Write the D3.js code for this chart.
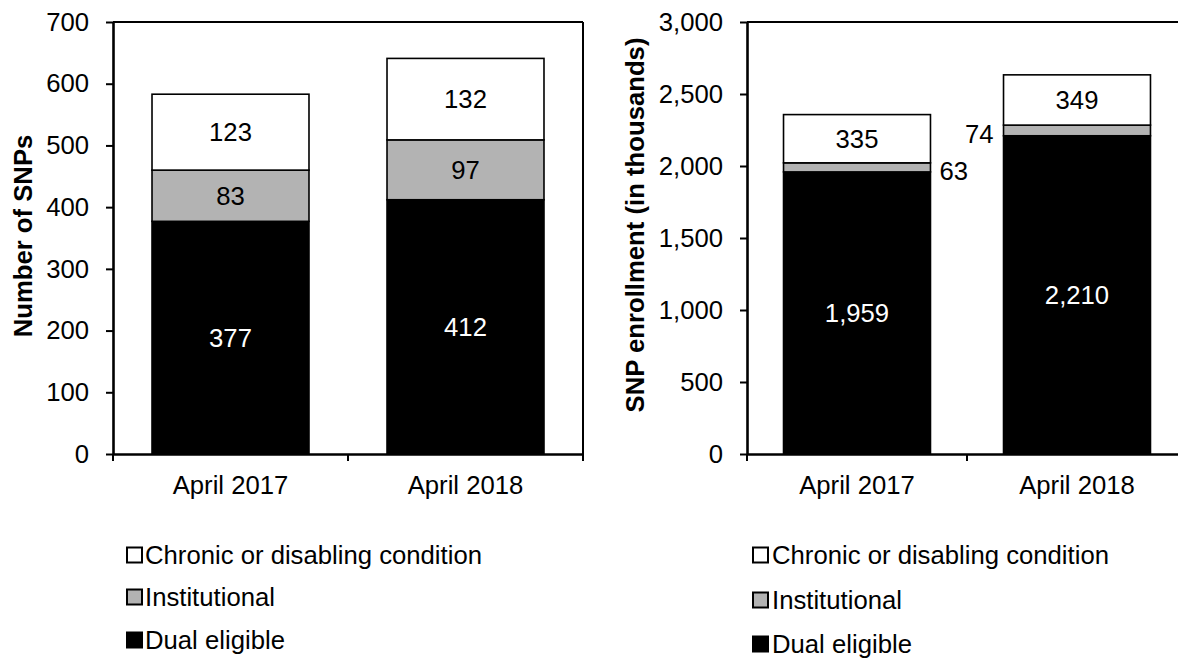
<!DOCTYPE html>
<html>
<head>
<meta charset="utf-8">
<script src="https://cdn.jsdelivr.net/npm/d3@7/dist/d3.min.js"></script>
<style>
  html, body { margin: 0; padding: 0; background: #fff; }
  svg { display: block; font-family: "Liberation Sans", Arial, sans-serif; }
  text { fill: #000; }
</style>
</head>
<body>
<svg id="chart" width="1178" height="658"></svg>
<script>
// Periods on the x axis
const periods = ["April 2017", "April 2018"];

// Segment keys, bottom to top
const segmentKeys = ["dual", "institutional", "chronic"];
const segmentNames = ["Dual eligible", "Institutional", "Chronic or disabling condition"];
const segmentColors = ["#000000", "#b3b3b3", "#ffffff"];

// Number of special needs plans
const dualPlans = [377, 412];
const institutionalPlans = [83, 97];
const chronicPlans = [123, 132];

// SNP enrollment, in thousands
const dualEnrollment = [1959, 2210];
const institutionalEnrollment = [63, 74];
const chronicEnrollment = [335, 349];

// Tick values
const planTicks = [0, 100, 200, 300, 400, 500, 600, 700];
const enrollmentTicks = [0, 500, 1000, 1500, 2000, 2500, 3000];

const svg = d3.select("#chart");
const FONT = 25.7;

function buildRows(dual, inst, chronic) {
  return periods.map((p, i) => ({
    period: p, dual: dual[i], institutional: inst[i], chronic: chronic[i]
  }));
}

function drawPanel(opts) {
  const { rows, ticks, yMax, left, right, top, bottom, title, titleX, titleY,
          fmt, smallOutside, legendX, legendTextX, legendY } = opts;

  const x = d3.scaleBand().domain(periods).range([left, right])
    .paddingInner(0.332).paddingOuter(0.166);
  const y = d3.scaleLinear().domain([0, yMax]).range([bottom, top]);
  const stack = d3.stack().keys(segmentKeys);
  const series = stack(rows);

  const g = svg.append("g");

  // stacked bars
  series.forEach((s, k) => {
    g.append("g").selectAll("rect").data(s).join("rect")
      .attr("x", d => x(d.data.period))
      .attr("width", x.bandwidth())
      .attr("y", d => y(d[1]))
      .attr("height", d => y(d[0]) - y(d[1]))
      .attr("fill", segmentColors[k])
      .attr("stroke", "#000")
      .attr("stroke-width", 1.6);
  });

  // value labels
  series.forEach((s, k) => {
    s.forEach((d, i) => {
      const v = d[1] - d[0];
      const h = y(d[0]) - y(d[1]);
      const cy = (y(d[0]) + y(d[1])) / 2;
      const label = g.append("text")
        .attr("font-size", FONT)
        .text(fmt(v));
      if (h >= FONT * 0.9 || !smallOutside) {
        label.attr("x", x(d.data.period) + x.bandwidth() / 2)
          .attr("y", cy).attr("dy", "0.35em")
          .attr("text-anchor", "middle")
          .style("fill", k === 0 ? "#fff" : "#000");
      } else {
        const onRight = i === 0;
        label.attr("x", onRight ? x(d.data.period) + x.bandwidth() + 9
                                : x(d.data.period) - 10)
          .attr("y", cy + 3.5).attr("dy", "0.35em")
          .attr("text-anchor", onRight ? "start" : "end");
      }
    });
  });

  // plot frame: top and right edges
  g.append("line").attr("x1", left).attr("x2", right).attr("y1", top).attr("y2", top)
    .attr("stroke", "#000").attr("stroke-width", 2);
  g.append("line").attr("x1", right).attr("x2", right).attr("y1", top).attr("y2", bottom)
    .attr("stroke", "#000").attr("stroke-width", 2);

  // y axis
  const yAxis = g.append("g")
    .attr("transform", `translate(${left},0)`)
    .call(d3.axisLeft(y).tickValues(ticks).tickFormat(fmt)
      .tickSize(7).tickSizeOuter(0).tickPadding(17));
  yAxis.select(".domain").attr("stroke-width", 2.6);
  yAxis.selectAll(".tick line").attr("stroke-width", 2);
  yAxis.selectAll("text").attr("font-size", FONT).attr("font-family", null).style("fill", "#000");

  // x axis: labels under each band, tick marks at band boundaries
  const xAxis = g.append("g")
    .attr("transform", `translate(0,${bottom})`)
    .call(d3.axisBottom(x).tickSize(0).tickPadding(22));
  xAxis.select(".domain").attr("stroke-width", 2.6);
  xAxis.selectAll("text").attr("font-size", FONT).attr("font-family", null).style("fill", "#000");
  const bounds = [left].concat(periods.map(p => x(p) + x.bandwidth() / 2 + x.step() / 2));
  g.selectAll(null).data(bounds).join("line")
    .attr("x1", d => d).attr("x2", d => d)
    .attr("y1", bottom).attr("y2", bottom + 7)
    .attr("stroke", "#000").attr("stroke-width", 2);

  // y axis title
  g.append("text")
    .attr("transform", `translate(${titleX},${titleY}) rotate(-90)`)
    .attr("text-anchor", "middle").attr("dy", "0.35em")
    .attr("font-size", FONT).attr("font-weight", "bold")
    .text(title);

  // legend, top entry is the top segment
  const order = [2, 1, 0];
  order.forEach((k, r) => {
    const cy = legendY[r];
    g.append("rect")
      .attr("x", legendX).attr("y", cy - 7.5)
      .attr("width", 15).attr("height", 15)
      .attr("fill", segmentColors[k]).attr("stroke", "#000").attr("stroke-width", 2);
    g.append("text")
      .attr("x", legendTextX).attr("y", cy).attr("dy", "0.35em")
      .attr("font-size", FONT)
      .text(segmentNames[k]);
  });
}

drawPanel({
  rows: buildRows(dualPlans, institutionalPlans, chronicPlans),
  ticks: planTicks, yMax: 700,
  left: 113, right: 583, top: 22, bottom: 454,
  title: "Number of SNPs", titleX: 23, titleY: 236,
  fmt: d3.format(","), smallOutside: false,
  legendX: 127, legendTextX: 145, legendY: [555, 597, 640]
});

drawPanel({
  rows: buildRows(dualEnrollment, institutionalEnrollment, chronicEnrollment),
  ticks: enrollmentTicks, yMax: 3000,
  left: 747, right: 1187, top: 22, bottom: 454,
  title: "SNP enrollment (in thousands)", titleX: 635, titleY: 225,
  fmt: d3.format(","), smallOutside: true,
  legendX: 753, legendTextX: 772, legendY: [555, 600, 644]
});
</script>
</body>
</html>
